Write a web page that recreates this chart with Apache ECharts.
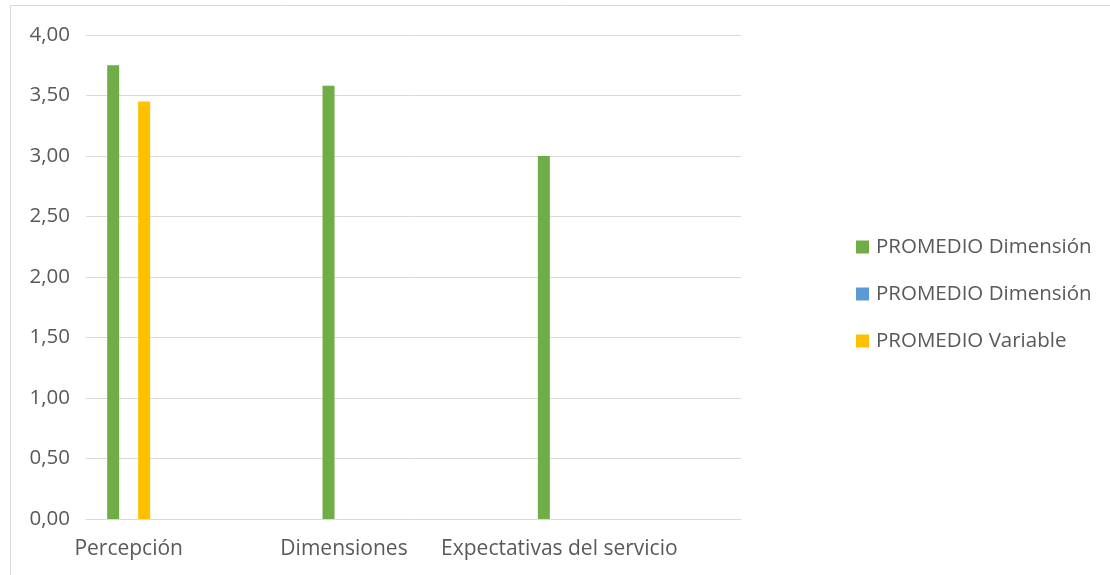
<!DOCTYPE html>
<html>
<head>
<meta charset="utf-8">
<script src="https://cdn.jsdelivr.net/npm/echarts@6/dist/echarts.min.js"></script>
<style>
  html, body { margin: 0; padding: 0; background: #fff; }
  #chart { width: 1110px; height: 575px; }
</style>
</head>
<body>
<div id="chart"></div>
<script>
// Categories on the horizontal axis
const categories = ['Percepción', 'Dimensiones', 'Expectativas del servicio'];

// Series values (null = no value for that category)
const promedioDimension = [3.75, 3.58, 3.00];
const promedioDimension2 = [null, null, null];
const promedioVariable = [3.45, null, null];

// Legend texts (two series share the same caption)
const legendLabels = ['PROMEDIO Dimensión', 'PROMEDIO Dimensión', 'PROMEDIO Variable'];
const seriesKeys = ['dim', 'dim2', 'var'];

// Value axis tick labels, 0 to 4 in steps of 0.5
const yTickLabels = ['0,00', '0,50', '1,00', '1,50', '2,00', '2,50', '3,00', '3,50', '4,00'];

const textColor = '#595959';
const gridColor = '#d9d9d9';
const fontFamily = '"Open Sans", "Noto Sans", sans-serif';
const colors = ['#70AD47', '#5B9BD5', '#FFC000'];
const values = [promedioDimension, promedioDimension2, promedioVariable];

const chart = echarts.init(document.getElementById('chart'), null, { renderer: 'canvas' });

const option = {
  animation: false,
  backgroundColor: '#fff',
  textStyle: { fontFamily: fontFamily },
  graphic: [{
    type: 'rect',
    shape: { x: 10.5, y: 5.5, width: 1200, height: 700 },
    style: { fill: 'none', stroke: gridColor, lineWidth: 1 },
    silent: true
  }],
  legend: {
    orient: 'vertical',
    left: 856,
    top: 236,
    padding: 0,
    icon: 'rect',
    itemWidth: 13,
    itemHeight: 13,
    itemGap: 25,
    data: seriesKeys,
    formatter: function (name) { return legendLabels[seriesKeys.indexOf(name)]; },
    textStyle: { color: textColor, fontSize: 20.5, fontFamily: fontFamily, lineHeight: 22, padding: [0, 0, 0, 2] }
  },
  grid: [
    // frame holding the value axis and gridlines
    { left: 86, top: 35, width: 655, height: 484, containLabel: false },
    // band holding the bars and category labels
    { left: 21, top: 35, width: 646, height: 484, containLabel: false }
  ],
  xAxis: [
    {
      type: 'category', gridIndex: 0, data: categories,
      axisLine: { show: true, lineStyle: { color: gridColor, width: 1 } },
      axisTick: { show: false }, axisLabel: { show: false }, splitLine: { show: false }
    },
    {
      type: 'category', gridIndex: 1, data: categories,
      axisLine: { show: false }, axisTick: { show: false }, splitLine: { show: false },
      axisLabel: { color: textColor, fontSize: 21, fontFamily: fontFamily, margin: 20, interval: 0 }
    }
  ],
  yAxis: [
    {
      type: 'value', gridIndex: 0, min: 0, max: 4, interval: 0.5,
      axisLine: { show: false }, axisTick: { show: false },
      splitLine: { show: true, lineStyle: { color: gridColor, width: 1 } },
      axisLabel: {
        color: textColor, fontSize: 20.5, fontFamily: fontFamily, margin: 16,
        formatter: function (v) { return yTickLabels[Math.round(v / 0.5)]; }
      }
    },
    {
      type: 'value', gridIndex: 1, min: 0, max: 4, interval: 0.5, show: false,
      splitLine: { show: false }
    }
  ],
  series: seriesKeys.map(function (key, i) {
    return {
      name: key,
      type: 'bar',
      xAxisIndex: 1,
      yAxisIndex: 1,
      data: values[i],
      barWidth: 12,
      barGap: '29%',
      itemStyle: { color: colors[i] }
    };
  })
};

chart.setOption(option);
</script>
</body>
</html>
